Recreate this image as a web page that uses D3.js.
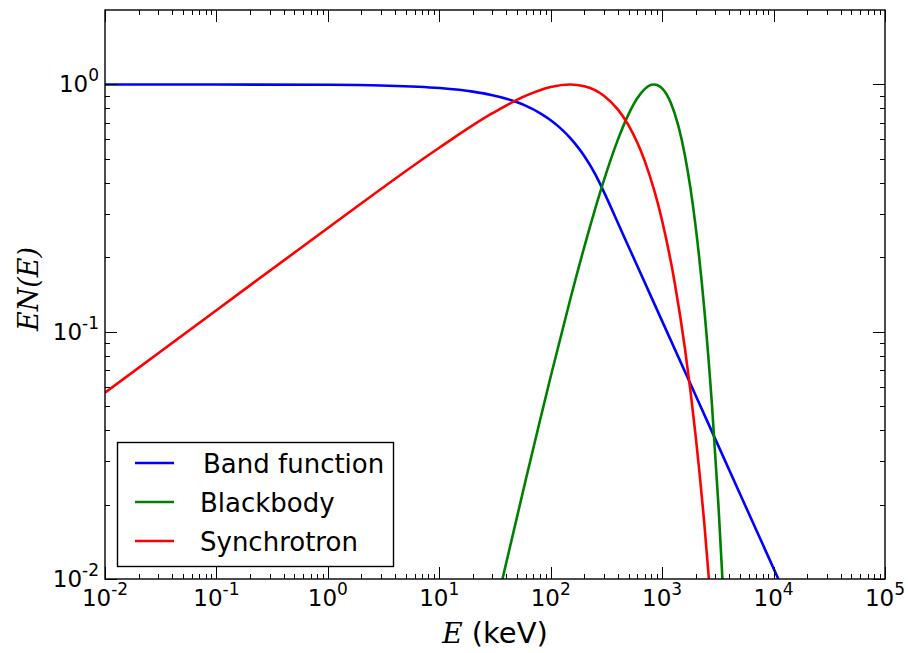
<!DOCTYPE html>
<html>
<head>
<meta charset="utf-8">
<script src="https://cdn.jsdelivr.net/npm/d3@7"></script>
<style>
  body { margin: 0; background: #fff; }
  svg { display: block; }
  text { font-family: "DejaVu Sans", sans-serif; fill: #000; }
</style>
</head>
<body>
<svg id="chart" width="908" height="653"></svg>
<script>
// Values (E in keV, EN(E) normalised to the peak)
const bandE = [0.01, 0.1, 1, 3, 10, 20, 30, 40, 50, 60, 80, 100, 120, 150, 180, 200, 250, 300, 400, 600, 1000, 2000, 5000, 12000];
const bandY = [1.0, 0.9997, 0.9967, 0.99, 0.9672, 0.9355, 0.9048, 0.8752, 0.8465, 0.8187, 0.7659, 0.7165, 0.6703, 0.6065, 0.5488, 0.5134, 0.4346, 0.3679, 0.2759, 0.1839, 0.1104, 0.0552, 0.02207, 0.0092];

const bbE = [30, 40, 60, 80, 100, 150, 200, 300, 400, 500, 600, 700, 800, 850, 900, 1000, 1200, 1400, 1600, 1800, 2000, 2400, 2800, 3200, 3600];
const bbY = [0.00669, 0.01169, 0.02542, 0.04365, 0.06587, 0.13556, 0.21996, 0.40944, 0.59693, 0.75844, 0.88091, 0.95974, 0.9962, 0.9999, 0.99528, 0.96392, 0.84007, 0.6787, 0.51774, 0.37762, 0.26551, 0.12088, 0.05059, 0.019905, 0.00747];

const syncE = [0.01, 0.1, 1, 10, 30, 60, 100, 149, 200, 300, 400, 500, 700, 1000, 1300, 1600, 2000, 2400, 2800];
const syncY = [0.05672, 0.12216, 0.26267, 0.55463, 0.76491, 0.90112, 0.97697, 1.0, 0.98416, 0.90073, 0.79266, 0.6827, 0.48827, 0.2811, 0.15679, 0.08588, 0.0378, 0.016416, 0.007062];

const seriesNames = ["Band function", "Blackbody", "Synchrotron"];
const seriesColors = ["#0000ff", "#008000", "#ff0000"];

const xDecades = [-2, -1, 0, 1, 2, 3, 4, 5];
const yDecades = [-2, -1, 0];

const svg = d3.select("#chart");
const pLeft = 105, pRight = 885, pTop = 10, pBottom = 579;

const x = d3.scaleLog().domain([1e-2, 1e5]).range([pLeft, pRight]);
const y = d3.scaleLog().domain([1e-2, 2]).range([pBottom, pTop]);

svg.append("defs").append("clipPath").attr("id", "plot-clip")
  .append("rect")
  .attr("x", pLeft).attr("y", pTop)
  .attr("width", pRight - pLeft).attr("height", pBottom - pTop);

// Curves
const line = d3.line()
  .x(d => x(d[0]))
  .y(d => y(d[1]))
  .curve(d3.curveMonotoneX);

const series = [
  d3.zip(bandE, bandY),
  d3.zip(bbE, bbY),
  d3.zip(syncE, syncY)
];

const curves = svg.append("g").attr("clip-path", "url(#plot-clip)");
series.forEach((pts, i) => {
  curves.append("path")
    .attr("d", line(pts))
    .attr("fill", "none")
    .attr("stroke", seriesColors[i])
    .attr("stroke-width", 2.6);
});

// Ticks (inward, on all four sides)
const ticks = svg.append("g").attr("stroke", "#000").attr("stroke-width", 1);

function minorValues(scale) {
  const [a, b] = scale.domain();
  const out = [];
  for (let e = Math.floor(Math.log10(a)); e <= Math.ceil(Math.log10(b)); e++) {
    for (let m = 2; m <= 9; m++) {
      const v = m * Math.pow(10, e);
      if (v > a && v < b) out.push(v);
    }
  }
  return out;
}

function addTicksX(values, len) {
  values.forEach(v => {
    const px = Math.round(x(v)) + 0.5;
    ticks.append("line").attr("x1", px).attr("x2", px).attr("y1", pBottom).attr("y2", pBottom - len);
    ticks.append("line").attr("x1", px).attr("x2", px).attr("y1", pTop).attr("y2", pTop + len);
  });
}
function addTicksY(values, len) {
  values.forEach(v => {
    const py = Math.round(y(v)) + 0.5;
    ticks.append("line").attr("y1", py).attr("y2", py).attr("x1", pLeft).attr("x2", pLeft + len);
    ticks.append("line").attr("y1", py).attr("y2", py).attr("x1", pRight).attr("x2", pRight - len);
  });
}
addTicksX(xDecades.map(d => Math.pow(10, d)), 12);
addTicksX(minorValues(x), 5);
addTicksY(yDecades.map(d => Math.pow(10, d)), 12);
addTicksY(minorValues(y), 5);

// Frame
svg.append("rect")
  .attr("x", pLeft).attr("y", pTop)
  .attr("width", pRight - pLeft).attr("height", pBottom - pTop)
  .attr("fill", "none")
  .attr("stroke", "#000")
  .attr("stroke-width", 1.4);

// Tick labels
xDecades.forEach(d => {
  const t = svg.append("text")
    .attr("x", x(Math.pow(10, d)))
    .attr("y", 606)
    .attr("text-anchor", "middle")
    .style("font-size", "23px");
  t.append("tspan").text("10");
  t.append("tspan").attr("dy", -11).style("font-size", "17px").text(d);
});

yDecades.forEach(d => {
  const t = svg.append("text")
    .attr("x", 99)
    .attr("y", y(Math.pow(10, d)) + 8)
    .attr("text-anchor", "end")
    .style("font-size", "23px");
  t.append("tspan").text("10");
  t.append("tspan").attr("dy", -11).style("font-size", "17px").text(d);
});

// Axis labels
const xl = svg.append("text")
  .attr("x", (pLeft + pRight) / 2)
  .attr("y", 643)
  .attr("text-anchor", "middle")
  .style("font-size", "29px");
xl.append("tspan")
  .style("font-family", "'DejaVu Serif', serif")
  .style("font-style", "italic")
  .style("font-size", "28px")
  .text("E");
xl.append("tspan").text(" (keV)");

svg.append("text")
  .attr("transform", "translate(38,289) rotate(-90)")
  .attr("text-anchor", "middle")
  .style("font-family", "'DejaVu Serif', serif")
  .style("font-style", "italic")
  .style("font-size", "27px")
  .text("EN(E)");

// Legend
const legend = svg.append("g");
legend.append("rect")
  .attr("x", 117.5).attr("y", 442.5)
  .attr("width", 276).attr("height", 124)
  .attr("fill", "#fff")
  .attr("stroke", "#000")
  .attr("stroke-width", 1.4);

seriesNames.forEach((name, i) => {
  const cy = 463 + i * 39;
  legend.append("line")
    .attr("x1", 135).attr("x2", 174)
    .attr("y1", cy).attr("y2", cy)
    .attr("stroke", seriesColors[i])
    .attr("stroke-width", 2.6);
  legend.append("text")
    .attr("x", i === 0 ? 203 : 200)
    .attr("y", cy + 10)
    .style("font-size", "26px")
    .text(name);
});
</script>
</body>
</html>
